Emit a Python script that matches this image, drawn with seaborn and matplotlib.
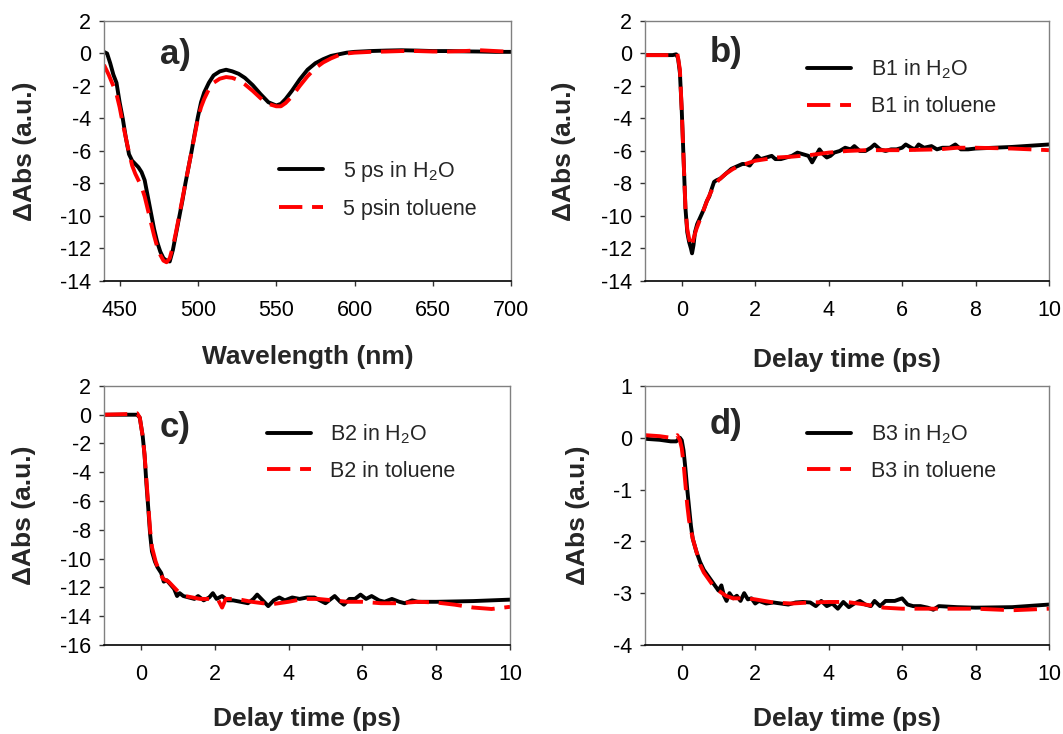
import matplotlib
matplotlib.use("Agg")
import matplotlib.pyplot as plt
import seaborn as sns

# panel a: spectra at 5 ps
wl_h2o = [440, 442, 444, 446, 448, 450, 452, 454, 456, 458, 460, 462, 464, 466, 468,
          470, 472, 474, 476, 478, 480, 482, 484, 486, 488, 490, 492, 494, 496, 498,
          500, 502, 504, 507, 510, 514, 518, 522, 526, 530, 535, 540, 545, 550, 553,
          556, 560, 565, 570, 575, 580, 585, 590, 595, 600, 610, 620, 630, 640, 650,
          660, 670, 680, 690, 700]
abs_h2o = [0.1, 0.0, -0.6, -1.3, -1.8, -3.0, -4.0, -5.2, -6.2, -6.6, -6.8, -7.0, -7.3, -7.8, -8.8,
           -9.8, -10.8, -11.6, -12.2, -12.6, -12.75, -12.8, -12.1, -11.1, -10.1, -9.1, -8.0, -7.0, -6.0, -4.9,
           -3.9, -3.0, -2.4, -1.8, -1.35, -1.1, -1.0, -1.1, -1.25, -1.5, -1.95, -2.5, -3.0, -3.2, -3.1,
           -2.8, -2.3, -1.6, -1.0, -0.6, -0.35, -0.15, -0.05, 0.05, 0.1, 0.15, 0.18, 0.2, 0.18, 0.15,
           0.15, 0.13, 0.12, 0.1, 0.1]
wl_tol = [440, 443, 446, 448, 450, 452, 454, 456, 458, 460, 462, 464, 466, 468, 470,
          472, 474, 476, 478, 480, 482, 484, 486, 488, 490, 492, 494, 496, 498, 500,
          502, 504, 507, 510, 514, 518, 522, 526, 530, 535, 540, 545, 550, 553, 556,
          560, 565, 570, 575, 580, 585, 590, 595, 600, 610, 620, 630, 640, 650, 660,
          670, 680, 690, 700]
abs_tol = [-0.7, -1.3, -2.0, -2.5, -3.3, -4.3, -5.2, -6.1, -6.9, -7.4, -7.8, -8.2, -8.8, -9.6, -10.4,
           -11.2, -11.9, -12.4, -12.75, -12.85, -12.6, -11.9, -11.0, -10.0, -9.0, -8.0, -7.0, -6.0, -5.0, -4.0,
           -3.3, -2.8, -2.2, -1.8, -1.55, -1.45, -1.5, -1.65, -1.9, -2.3, -2.75, -3.1, -3.25, -3.25, -3.05,
           -2.65, -2.0, -1.4, -0.9, -0.55, -0.3, -0.1, 0.0, 0.05, 0.1, 0.12, 0.15, 0.15, 0.12, 0.12,
           0.15, 0.2, 0.15, 0.1]

# panel b: B1 kinetics
t_b1_h2o = [-1.0, -0.5, -0.25, -0.15, -0.1, -0.05, 0.0, 0.05, 0.1, 0.15, 0.2, 0.25, 0.28, 0.32, 0.36,
            0.42, 0.5, 0.6, 0.68, 0.75, 0.82, 0.88, 0.95, 1.05, 1.15, 1.25, 1.35, 1.45, 1.55, 1.65,
            1.75, 1.85, 1.95, 2.05, 2.15, 2.3, 2.45, 2.55, 2.7, 2.85, 3.0, 3.15, 3.3, 3.45, 3.55,
            3.65, 3.75, 3.85, 3.95, 4.05, 4.15, 4.3, 4.45, 4.6, 4.7, 4.85, 5.0, 5.15, 5.25, 5.4,
            5.55, 5.7, 5.85, 6.0, 6.1, 6.25, 6.35, 6.45, 6.6, 6.8, 6.95, 7.1, 7.3, 7.45, 7.6,
            7.8, 8.0, 9.0, 10.0]
b1_h2o = [-0.1, -0.1, -0.1, -0.05, -0.3, -1.2, -3.5, -6.5, -9.5, -11.0, -11.6, -12.0, -12.3, -11.8, -11.0,
          -10.5, -10.1, -9.6, -9.1, -8.8, -8.3, -7.9, -7.8, -7.7, -7.5, -7.3, -7.1, -7.0, -6.9, -6.8,
          -6.8, -6.9, -6.6, -6.3, -6.5, -6.4, -6.3, -6.5, -6.5, -6.4, -6.3, -6.1, -6.2, -6.3, -6.7,
          -6.3, -5.9, -6.2, -6.4, -6.3, -6.1, -6.0, -5.8, -5.9, -5.7, -6.0, -6.0, -5.8, -5.6, -5.9,
          -6.0, -5.9, -5.9, -5.8, -5.6, -5.8, -5.9, -5.6, -5.8, -5.7, -5.9, -5.8, -5.8, -5.6, -5.9,
          -5.9, -5.85, -5.75, -5.6]
t_b1_tol = [-1.0, -0.2, -0.12, -0.05, 0.0, 0.05, 0.1, 0.15, 0.2, 0.27, 0.32, 0.4, 0.5, 0.6, 0.7,
            0.8, 0.9, 1.0, 1.2, 1.4, 1.6, 1.8, 2.0, 2.3, 2.6, 3.0, 3.5, 4.0, 4.5, 5.0,
            6.0, 7.0, 7.5, 8.0, 9.0, 10.0]
b1_tol = [-0.1, -0.1, 0.0, -1.0, -3.5, -6.5, -9.5, -10.8, -11.4, -11.9, -11.4, -10.8, -10.2, -9.6, -9.0,
          -8.5, -8.1, -7.8, -7.4, -7.1, -6.9, -6.75, -6.6, -6.5, -6.4, -6.35, -6.25, -6.1, -6.0, -5.95,
          -5.95, -5.9, -5.8, -5.8, -5.85, -5.95]

# panel c: B2 kinetics
t_b2_h2o = [-1.0, -0.3, -0.1, -0.03, 0.05, 0.1, 0.15, 0.2, 0.25, 0.3, 0.38, 0.45, 0.55, 0.62, 0.7,
            0.8, 0.9, 0.98, 1.05, 1.15, 1.3, 1.45, 1.55, 1.7, 1.85, 1.95, 2.05, 2.2, 2.35, 2.5,
            2.7, 2.9, 3.05, 3.15, 3.3, 3.45, 3.6, 3.75, 3.9, 4.1, 4.3, 4.5, 4.7, 4.85, 5.0,
            5.15, 5.25, 5.4, 5.5, 5.65, 5.8, 5.95, 6.1, 6.25, 6.45, 6.6, 6.8, 7.0, 7.15, 7.35,
            7.5, 8.0, 9.0, 10.0]
b2_h2o = [0.0, 0.0, 0.0, -0.2, -1.5, -2.8, -4.8, -6.5, -8.3, -9.5, -10.2, -10.6, -11.0, -11.6, -11.5,
          -11.8, -12.1, -12.6, -12.4, -12.6, -12.7, -12.8, -12.6, -12.9, -12.7, -12.4, -12.8, -12.6, -12.9, -12.9,
          -13.0, -13.1, -12.8, -12.5, -12.9, -13.3, -12.9, -12.7, -12.9, -12.7, -12.8, -12.7, -12.7, -12.9, -13.1,
          -12.8, -12.6, -13.0, -13.2, -12.8, -12.8, -12.5, -12.8, -12.6, -12.9, -13.0, -12.8, -13.0, -13.1, -12.9,
          -13.0, -13.0, -12.95, -12.85]
t_b2_tol = [-1.0, -0.3, -0.1, -0.03, 0.05, 0.1, 0.15, 0.2, 0.25, 0.3, 0.4, 0.5, 0.6, 0.75, 0.9,
            1.05, 1.2, 1.4, 1.6, 1.8, 2.0, 2.1, 2.2, 2.3, 2.6, 3.0, 3.3, 3.6, 4.0, 4.4,
            4.8, 5.2, 5.6, 6.0, 6.5, 7.0, 7.5, 8.0, 8.5, 9.0, 9.5, 10.0]
b2_tol = [0.0, 0.05, 0.1, -0.2, -1.5, -2.8, -4.5, -6.3, -8.0, -9.2, -10.2, -10.9, -11.4, -11.6, -12.0,
          -12.4, -12.6, -12.7, -12.8, -12.8, -12.8, -12.9, -13.4, -12.8, -12.8, -13.0, -13.1, -13.15, -13.0, -12.8,
          -12.8, -12.9, -13.0, -13.0, -13.1, -13.1, -13.0, -13.05, -13.2, -13.4, -13.5, -13.35]

# panel d: B3 kinetics
t_b3_h2o = [-1.0, -0.6, -0.3, -0.15, -0.05, 0.0, 0.05, 0.1, 0.15, 0.2, 0.25, 0.3, 0.4, 0.5, 0.6,
            0.7, 0.8, 0.9, 1.0, 1.08, 1.15, 1.22, 1.3, 1.4, 1.5, 1.6, 1.7, 1.8, 1.9, 2.0,
            2.1, 2.3, 2.5, 2.7, 2.9, 3.1, 3.3, 3.5, 3.65, 3.8, 3.95, 4.1, 4.25, 4.4, 4.55,
            4.7, 4.85, 5.0, 5.15, 5.25, 5.4, 5.55, 5.8, 6.0, 6.15, 6.3, 6.5, 6.7, 6.85, 7.0,
            7.5, 8.0, 9.0, 10.0]
b3_h2o = [-0.02, -0.04, -0.07, -0.07, 0.0, -0.05, -0.25, -0.6, -1.0, -1.35, -1.7, -1.95, -2.2, -2.4, -2.55,
          -2.65, -2.75, -2.85, -2.95, -2.85, -3.05, -3.15, -3.0, -3.1, -3.05, -3.15, -3.0, -3.12, -3.1, -3.2,
          -3.15, -3.2, -3.18, -3.2, -3.22, -3.18, -3.17, -3.18, -3.25, -3.15, -3.25, -3.2, -3.3, -3.17, -3.27,
          -3.2, -3.15, -3.22, -3.25, -3.15, -3.25, -3.15, -3.15, -3.1, -3.22, -3.25, -3.25, -3.28, -3.32, -3.25,
          -3.27, -3.28, -3.27, -3.22]
t_b3_tol = [-1.0, -0.6, -0.3, -0.2, -0.12, -0.05, 0.0, 0.05, 0.1, 0.15, 0.2, 0.3, 0.4, 0.5, 0.6,
            0.7, 0.8, 0.9, 1.0, 1.1, 1.2, 1.4, 1.6, 1.8, 2.0, 2.5, 3.0, 3.5, 4.0, 4.5,
            5.0, 5.5, 6.0, 7.0, 8.0, 9.0, 10.0]
b3_tol = [0.05, 0.03, 0.0, 0.0, 0.05, -0.05, -0.2, -0.5, -0.9, -1.3, -1.6, -1.95, -2.2, -2.45, -2.6,
          -2.7, -2.8, -2.9, -2.95, -3.0, -3.05, -3.1, -3.1, -3.1, -3.12, -3.18, -3.2, -3.18, -3.17, -3.17,
          -3.22, -3.28, -3.3, -3.3, -3.3, -3.33, -3.3]

sns.set_style("ticks")
plt.rcParams['font.family'] = ['Liberation Sans', 'DejaVu Sans']
plt.rcParams['mathtext.fontset'] = 'custom'
plt.rcParams['mathtext.rm'] = 'Liberation Sans'
plt.rcParams['mathtext.default'] = 'regular'
plt.rcParams['axes.unicode_minus'] = False

fig = plt.figure(figsize=(10.63, 7.34), dpi=100)

panels = [
    dict(rect=[0.0978, 0.6172, 0.383, 0.3542], h2o=(wl_h2o, abs_h2o), tol=(wl_tol, abs_tol),
         lab=("5 ps in H$_2$O", "5 psin toluene"), xlim=(440, 700), xticks=[450, 500, 550, 600, 650, 700],
         ylim=(-14, 2), yticks=range(-14, 3, 2), xlabel="Wavelength (nm)", letter="a)",
         lpos=(0.175, 0.873), ylx=-0.194, xly=-0.292, leg=(0.43, 0.47)),
    dict(rect=[0.6068, 0.6172, 0.380, 0.3542], h2o=(t_b1_h2o, b1_h2o), tol=(t_b1_tol, b1_tol),
         lab=("B1 in H$_2$O", "B1 in toluene"), xlim=(-1, 10), xticks=[0, 2, 4, 6, 8, 10],
         ylim=(-14, 2), yticks=range(-14, 3, 2), xlabel="Delay time (ps)", letter="b)",
         lpos=(0.2, 0.877), ylx=-0.200, xly=-0.304, leg=(0.401, 0.86)),
    dict(rect=[0.0978, 0.1213, 0.382, 0.3529], h2o=(t_b2_h2o, b2_h2o), tol=(t_b2_tol, b2_tol),
         lab=("B2 in H$_2$O", "B2 in toluene"), xlim=(-1, 10), xticks=[0, 2, 4, 6, 8, 10],
         ylim=(-16, 2), yticks=range(-16, 3, 2), xlabel="Delay time (ps)", letter="c)",
         lpos=(0.175, 0.84), ylx=-0.197, xly=-0.284, leg=(0.401, 0.86)),
    dict(rect=[0.6068, 0.1213, 0.380, 0.3529], h2o=(t_b3_h2o, b3_h2o), tol=(t_b3_tol, b3_tol),
         lab=("B3 in H$_2$O", "B3 in toluene"), xlim=(-1, 10), xticks=[0, 2, 4, 6, 8, 10],
         ylim=(-4, 1), yticks=range(-4, 2, 1), xlabel="Delay time (ps)", letter="d)",
         lpos=(0.2, 0.85), ylx=-0.167, xly=-0.284, leg=(0.401, 0.86)),
]

for p in panels:
    ax = fig.add_axes(p["rect"])
    sns.lineplot(x=p["h2o"][0], y=p["h2o"][1], ax=ax, color="black", lw=2.8,
                 estimator=None, sort=False, label=p["lab"][0])
    sns.lineplot(x=p["tol"][0], y=p["tol"][1], ax=ax, color="#ff0000", lw=2.8,
                 linestyle=(0, (6, 2.5)), estimator=None, sort=False, label=p["lab"][1])
    ax.set_xlim(*p["xlim"])
    ax.set_ylim(*p["ylim"])
    ax.set_xticks(p["xticks"])
    ax.set_yticks(list(p["yticks"]))
    ax.tick_params(axis="both", direction="out", length=3.5, width=1, labelsize=15.5, colors="#333333",
                   labelcolor="black")
    ax.tick_params(axis="x", pad=10)
    ax.tick_params(axis="y", pad=6)
    for side in ["left", "top", "right"]:
        ax.spines[side].set_visible(True)
        ax.spines[side].set_color("#808080")
        ax.spines[side].set_linewidth(1.0)
    ax.spines["bottom"].set_color("black")
    ax.spines["bottom"].set_linewidth(1.2)

    ax.set_xlabel(p["xlabel"], fontsize=19, fontweight="bold")
    ax.set_ylabel("\u0394Abs (a.u.)", fontsize=19, fontweight="bold")
    ax.xaxis.label.set_va("center")
    ax.yaxis.label.set_va("center")
    ax.xaxis.set_label_coords(0.5, p["xly"])
    ax.yaxis.set_label_coords(p["ylx"], 0.5)

    ax.text(p["lpos"][0], p["lpos"][1], p["letter"], transform=ax.transAxes,
            fontsize=25, fontweight="bold", ha="center", va="center")

    ax.legend(loc="upper left", bbox_to_anchor=p["leg"], frameon=False, fontsize=15.5,
              handlelength=2.05, handletextpad=0.9, labelspacing=0.7, borderpad=0, borderaxespad=0)

fig.savefig("out.png", dpi=100)
